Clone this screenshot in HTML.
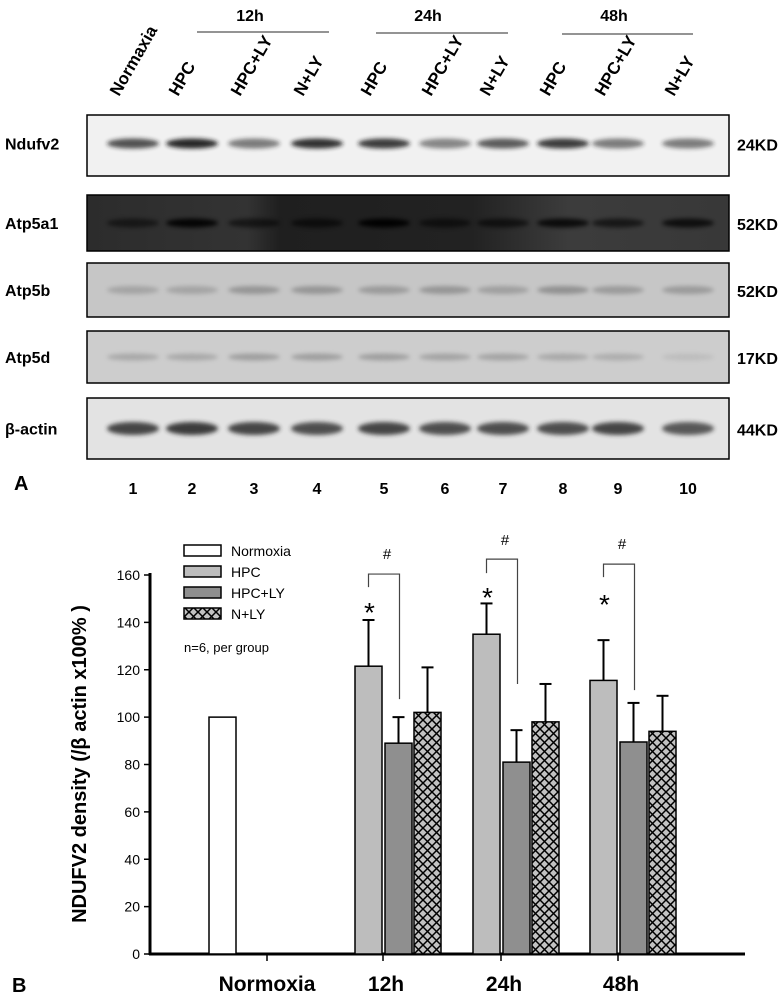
<!DOCTYPE html>
<html><head><meta charset="utf-8"><style>
body{margin:0;background:#fff;}
svg{display:block;font-family:"Liberation Sans",Arial,sans-serif;}
</style></head><body>
<svg id="fig" width="781" height="1000" viewBox="0 0 781 1000">
<defs>
<filter id="blur" x="-20%" y="-80%" width="140%" height="260%"><feGaussianBlur stdDeviation="2"/></filter>
<pattern id="hatch" width="9" height="9" patternUnits="userSpaceOnUse">
<rect width="9" height="9" fill="#c2c2c2"/>
<path d="M0,0 L9,9 M9,0 L0,9" stroke="#000" stroke-width="1.5"/>
</pattern>
<linearGradient id="g2" x1="0" x2="1"><stop offset="0" stop-color="#2c2c2c"/><stop offset="0.25" stop-color="#333"/><stop offset="0.3" stop-color="#1f1f1f"/><stop offset="0.6" stop-color="#222"/><stop offset="0.75" stop-color="#3c3c3c"/><stop offset="1" stop-color="#383838"/></linearGradient>
</defs>
<g id="blot"></g>
<g id="chart"></g>
</svg>
<script>
const NS="http://www.w3.org/2000/svg";
function mk(parent,tag,attrs,text){const e=document.createElementNS(NS,tag);for(const k in attrs)e.setAttribute(k,attrs[k]);if(text!==undefined)e.textContent=text;parent.appendChild(e);return e;}

// ---------- Blot ----------
const laneLabels=["Normaxia","HPC","HPC+LY","N+LY","HPC","HPC+LY","N+LY","HPC","HPC+LY","N+LY"];
const laneNums=["1","2","3","4","5","6","7","8","9","10"];
const proteins=["Ndufv2","Atp5a1","Atp5b","Atp5d","β-actin"];
const sizes=["24KD","52KD","52KD","17KD","44KD"];
const ndufv2=[0.75,0.95,0.55,0.9,0.85,0.5,0.7,0.85,0.55,0.55];
const atp5a1=[0.5,0.9,0.55,0.6,0.95,0.55,0.6,0.8,0.6,0.75];
const atp5b=[0.35,0.35,0.5,0.5,0.45,0.5,0.4,0.55,0.45,0.45];
const atp5d=[0.35,0.35,0.45,0.45,0.45,0.4,0.4,0.35,0.3,0.15];
const actin=[0.85,0.9,0.85,0.8,0.85,0.8,0.8,0.8,0.85,0.75];
const bandData=[ndufv2,atp5a1,atp5b,atp5d,actin];
const blot=document.getElementById('blot');
const laneX=[133,192,254,317,384,445,503,563,618,688];
const panels=[[115,61,'#f1f1f1'],[195,56,'url(#g2)'],[263,54,'#c6c6c6'],[331,52,'#cdcdcd'],[398,61,'#e3e3e3']];
const bandColor=['#1a1a1a','#000','#666','#666','#2a2a2a'];
const bandRy=[5,4.5,4,3.5,6.5];
panels.forEach((p,i)=>{
  const g=mk(blot,'g',{});
  
  
  mk(g,'rect',{x:87,y:p[0],width:642,height:p[1],fill:p[2],stroke:'#000','stroke-width':1.5});
  const cy=p[0]+p[1]/2+(i==0?-2:0);
  bandData[i].forEach((v,j)=>{
    const b=mk(g,'ellipse',{cx:laneX[j],cy:cy,rx:26,ry:bandRy[i],fill:bandColor[i],opacity:v,filter:'url(#blur)'});
    
    
  });
  const l=mk(g,'text',{x:5,y:cy+6,'font-size':16,'font-weight':'bold'},proteins[i]);
  
  
  const s=mk(g,'text',{x:737,y:cy+7,'font-size':16,'font-weight':'bold'},sizes[i]);
  
  
});
laneLabels.forEach((t,j)=>{
  const x=laneX[j]-14;
  const e=mk(blot,'text',{x:x,y:97,'font-size':17,'font-weight':'bold',transform:`rotate(-60 ${x} 97)`},t);
  
  
  const n=mk(blot,'text',{x:laneX[j],y:494,'font-size':16,'font-weight':'bold','text-anchor':'middle'},laneNums[j]);
  
  
});
[["12h",250,197,329,32],["24h",428,376,508,33],["48h",614,562,693,34]].forEach(h=>{
  const t=mk(blot,'text',{x:h[1],y:21,'font-size':16,'font-weight':'bold','text-anchor':'middle'},h[0]);
  
  
  mk(blot,'line',{x1:h[2],x2:h[3],y1:h[4],y2:h[4],stroke:'#555','stroke-width':1.2});
});
const pa=mk(blot,'text',{x:14,y:490,'font-size':20,'font-weight':'bold'},'A');



// ---------- Chart ----------
const categories=["Normoxia","12h","24h","48h"];
const normoxiaValue=[100];
const hpc=[121.5,135,115.5];
const hpcErr=[19.5,13,17];
const hpcLy=[89,81,89.5];
const hpcLyErr=[11,13.5,16.5];
const nLy=[102,98,94];
const nLyErr=[19,16,15];
const yTicks=[0,20,40,60,80,100,120,140,160];
const bracketTop=[160.4,166.7,164.6];
const bracketLeftEnd=[154.9,160.8,159.1];
const bracketRightEnd=[107.6,114,111.4];
const hashLevel=[169.3,175.2,173.5];
const starLevel=[146,152.4,149.4];

const chart=document.getElementById('chart');
const X0=150,X1=745,Y0=954,Ytop=575;
const yS=v=>Y0-(v/160)*(Y0-Ytop);
const catX=[267,383,501,618];
const bw=27;
mk(chart,'line',{x1:X0,x2:X0,y1:Ytop-2,y2:Y0+1,stroke:'#000','stroke-width':3});
mk(chart,'line',{x1:X0-1,x2:X1,y1:Y0,y2:Y0,stroke:'#000','stroke-width':3});
yTicks.forEach(t=>{
  mk(chart,'line',{x1:X0-6,x2:X0,y1:yS(t),y2:yS(t),stroke:'#000','stroke-width':1.5});
  const e=mk(chart,'text',{x:X0-10,y:yS(t)+5,'font-size':14,'text-anchor':'end'},String(t));
  
  
});
categories.forEach((c,i)=>{
  mk(chart,'line',{x1:catX[i],x2:catX[i],y1:Y0,y2:Y0+7,stroke:'#000','stroke-width':1.5});
  const e=mk(chart,'text',{x:catX[i]+(i==0?0:3),y:991,'font-size':21,'font-weight':'bold','text-anchor':'middle'},c);
  
  
});
const yt=mk(chart,'text',{x:0,y:0,'font-size':20,'font-weight':'bold','text-anchor':'middle',transform:'translate(86,764) rotate(-90)'},'NDUFV2 density (/β actin x100% )');



function bar(x,v,fill,name){
  const r=mk(chart,'rect',{x:x,y:yS(v),width:bw,height:Y0-yS(v),fill:fill,stroke:'#000','stroke-width':1.5});
  
  
}
function err(x,v,e){
  const cx=x+bw/2;
  mk(chart,'line',{x1:cx,x2:cx,y1:yS(v),y2:yS(v+e),stroke:'#000','stroke-width':2});
  mk(chart,'line',{x1:cx-6,x2:cx+6,y1:yS(v+e),y2:yS(v+e),stroke:'#000','stroke-width':2});
}
bar(catX[0]-58,normoxiaValue[0],'#fff','bar-normoxia');
for(let i=0;i<3;i++){
  const c=catX[i+1];
  const xs=[c-28,c+2,c+31];
  bar(xs[0],hpc[i],'#bdbdbd','bar-hpc-'+categories[i+1]);
  err(xs[0],hpc[i],hpcErr[i]);
  bar(xs[1],hpcLy[i],'#8f8f8f','bar-hpc-ly-'+categories[i+1]);
  err(xs[1],hpcLy[i],hpcLyErr[i]);
  bar(xs[2],nLy[i],'url(#hatch)','bar-n-ly-'+categories[i+1]);
  err(xs[2],nLy[i],nLyErr[i]);
  const lx=xs[0]+bw/2, rx=xs[1]+bw/2+1;
  const br=mk(chart,'polyline',{points:`${lx},${yS(bracketLeftEnd[i])} ${lx},${yS(bracketTop[i])} ${rx},${yS(bracketTop[i])} ${rx},${yS(bracketRightEnd[i])}`,fill:'none',stroke:'#444','stroke-width':1.2});
  
  
  const s=mk(chart,'text',{x:lx+1,y:yS(starLevel[i])+14,'font-size':28,'text-anchor':'middle'},'*');
  
  
  const h=mk(chart,'text',{x:(lx+rx)/2+3,y:yS(hashLevel[i])+6,'font-size':15,'text-anchor':'middle'},'#');
  
  
}
const legNames=["Normoxia","HPC","HPC+LY","N+LY"];
const legFill=['#fff','#bdbdbd','#8f8f8f','url(#hatch)'];
legNames.forEach((n,i)=>{
  const y=545+i*21;
  const g=mk(chart,'g',{});
  
  
  mk(g,'rect',{x:184,y:y,width:37,height:11,fill:legFill[i],stroke:'#000','stroke-width':1.5});
  mk(g,'text',{x:231,y:y+11,'font-size':14},n);
});
const nt=mk(chart,'text',{x:184,y:652,'font-size':13},'n=6, per group');


const pb=mk(chart,'text',{x:12,y:992,'font-size':20,'font-weight':'bold'},'B');


</script>
</body></html>
